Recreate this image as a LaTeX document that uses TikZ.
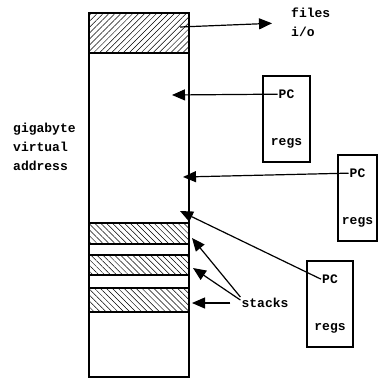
\documentclass[tikz,border=0pt]{standalone}
\usepackage{fontspec}
\setmonofont{Liberation Mono}
\usetikzlibrary{arrows.meta,patterns.meta,positioning}
\tikzstyle{column}=[draw,line width=1.7pt]
\tikzstyle{hatchup}=[draw,line width=1.7pt,pattern={Lines[angle=45,distance=4.2pt,line width=0.5pt]}]
\tikzstyle{hatchdown}=[draw,line width=1.7pt,pattern={Lines[angle=-45,distance=4.2pt,line width=0.5pt]}]
\tikzstyle{thread}=[draw,line width=1.7pt,minimum height=86pt,inner sep=0pt]
\tikzstyle{txt}=[font=\ttfamily\bfseries\fontsize{13}{19}\selectfont,inner sep=1pt]
\tikzstyle{pointer}=[draw,line width=1.2pt,-{Triangle[length=13pt,width=11pt]}]

\begin{document}
\begin{tikzpicture}[x=1pt,y=-1pt]
    \useasboundingbox (0,0) rectangle (379,378);

    % address space column
    \draw[column] (89,13) rectangle (189,377);
    \draw[hatchup] (89,13) rectangle (189,53);
    \foreach \ytop/\ybot in {223/244, 255/275, 288/312}
        \draw[hatchdown] (89,\ytop) rectangle (189,\ybot);

    \node[txt,align=left,anchor=north west] (space) at (12,122) {gigabyte\\virtual\\address};

    % threads
    \foreach \pos/\name/\boxw in {{(286.5,119)/1/47pt},{(357.5,198)/2/39pt},{(330,304)/3/46pt}} {
        \node[thread,minimum width=\boxw] (thread\name) at \pos {};
        \node[txt] (pc\name) at ([yshift=-19pt]thread\name.north) {PC};
        \node[txt] (regs\name) at ([yshift=19pt]thread\name.south) {regs};
    }

    \coordinate (io) at (180,27);
    \coordinate (t1) at (172,95);
    \coordinate (t2) at (183,177);
    \coordinate (t3) at (180,211);
    \coordinate (s1) at (192,238);
    \coordinate (s2) at (193,268);
    \coordinate (s3) at (192,303);

    \node[txt,align=left,anchor=north west] (files) at (290,7) {files\\i/o};
    \node[txt] (stacks) at (265,303) {stacks};

    \draw[pointer,shorten >=18pt] (io) -- (files.west);
    \foreach \n in {1,2,3}
        \draw[pointer] (pc\n.west) -- (t\n);
    \draw[pointer] (stacks.north west) -- (s1);
    \draw[pointer] ([yshift=-3pt]stacks.north west) -- (s2);
    \draw[pointer,shorten <=10pt] (stacks.west) -- (s3);
\end{tikzpicture}
\end{document}
